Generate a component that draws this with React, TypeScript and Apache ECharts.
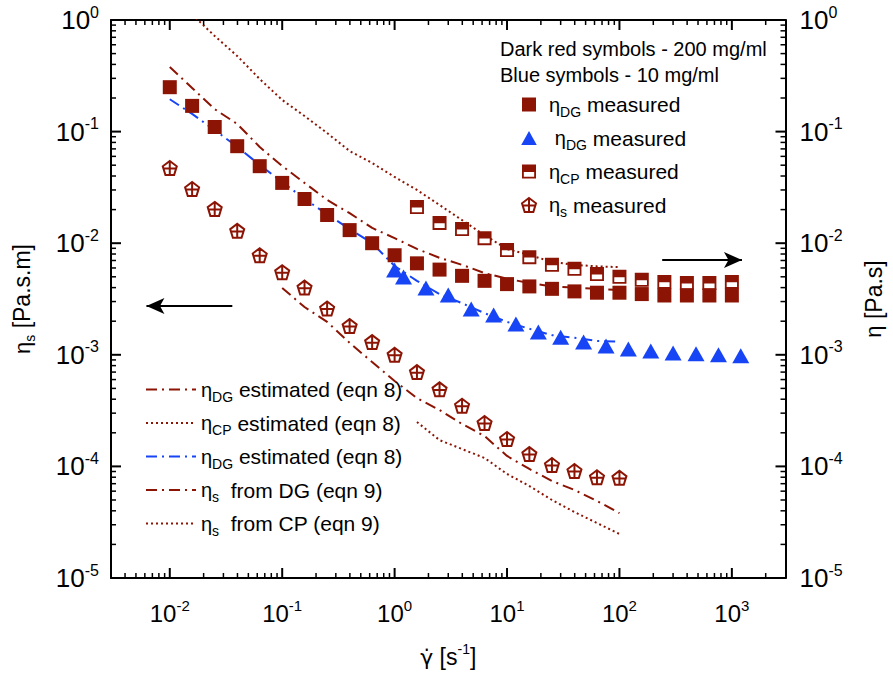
import React, { useEffect, useRef } from 'react';
import * as echarts from 'echarts';

const RED = '#8c1404';
const BLUE = '#1745f5';
const FONT = 'Liberation Sans, Arial, sans-serif';

// shear rates (s^-1) of the 200 mg/ml measurements (5 points per decade)
const shearRates = [0.01, 0.0158, 0.0251, 0.0398, 0.0631, 0.1, 0.158, 0.251, 0.398, 0.631, 1, 1.58, 2.51, 3.98, 6.31, 10, 15.8, 25.1, 39.8, 63.1, 100, 158, 251, 398, 631, 1000];
// eta_DG measured, 200 mg/ml (dark red squares)
const etaDG200 = [0.25, 0.17, 0.11, 0.074, 0.049, 0.0347, 0.0249, 0.0179, 0.0131, 0.0100, 0.0078, 0.0066, 0.0058, 0.0051, 0.0046, 0.0043, 0.0041, 0.0039, 0.0037, 0.0036, 0.0036, 0.0035, 0.0034, 0.0034, 0.0034, 0.0034];
// eta_CP measured (half-filled squares), from 1.58 s^-1
const cpRates = [1.58, 2.51, 3.98, 6.31, 10, 15.8, 25.1, 39.8, 63.1, 100, 158, 251, 398, 631, 1000];
const etaCP = [0.0211, 0.0152, 0.0134, 0.0111, 0.0087, 0.0075, 0.0064, 0.0059, 0.0053, 0.0050, 0.0047, 0.0045, 0.0044, 0.0044, 0.0045];
// eta_DG measured, 10 mg/ml (blue triangles)
const blueRates = [1.0, 1.2, 1.9, 3.0, 4.8, 7.6, 12, 19, 30, 48, 76, 120, 190, 300, 480, 760, 1200];
const etaDG10 = [0.00575, 0.00498, 0.00397, 0.00343, 0.00257, 0.00227, 0.00189, 0.00160, 0.00144, 0.00130, 0.00120, 0.00113, 0.00108, 0.00104, 0.00102, 0.00100, 0.00098];
// eta_s measured (pentagons), 0.01 .. 100 s^-1
const sRates = [0.01, 0.0158, 0.0251, 0.0398, 0.0631, 0.1, 0.158, 0.251, 0.398, 0.631, 1, 1.58, 2.51, 3.98, 6.31, 10, 15.8, 25.1, 39.8, 63.1, 100];
const etaS = [0.0472, 0.0306, 0.0203, 0.0129, 0.0078, 0.0055, 0.0040, 0.0026, 0.00181, 0.0013, 0.00100, 0.00070, 0.00049, 0.00035, 0.000245, 0.000176, 0.000129, 0.000103, 0.000091, 0.000080, 0.000079];

// estimated curves (eqn 8) on 0.01 .. 100 s^-1
const estRates = [0.01, 0.0158, 0.0251, 0.0398, 0.0631, 0.1, 0.158, 0.251, 0.398, 0.631, 1, 1.58, 2.51, 3.98, 6.31, 10, 15.8, 25.1, 39.8, 63.1, 100];
const estDG200 = [0.379, 0.246, 0.159, 0.117, 0.0728, 0.0492, 0.0347, 0.0244, 0.0186, 0.0137, 0.0111, 0.0089, 0.0074, 0.0064, 0.0054, 0.0048, 0.0044, 0.0041, 0.0040, 0.0039, 0.0038];
const estDG10 = [0.195, 0.144, 0.103, 0.0733, 0.0502, 0.0354, 0.0249, 0.0182, 0.0134, 0.0100, 0.00625, 0.0046, 0.0035, 0.0029, 0.00236, 0.00197, 0.00171, 0.00150, 0.00142, 0.00133, 0.00131];
const cpEstRates = [0.0158, 0.0251, 0.0398, 0.0631, 0.1, 0.158, 0.251, 0.398, 0.631, 1, 1.58, 2.51, 3.98, 6.31, 10, 15.8, 25.1, 39.8, 63.1, 100];
const estCP = [1.12, 0.719, 0.476, 0.296, 0.192, 0.138, 0.097, 0.067, 0.0523, 0.0392, 0.030, 0.022, 0.0161, 0.0118, 0.00887, 0.00784, 0.0068, 0.0064, 0.0062, 0.0061];
// eta_s from DG / CP (eqn 9)
const sDGRates = [0.1, 0.158, 0.251, 0.398, 0.631, 1, 1.58, 2.51, 3.98, 6.31, 10, 15.8, 25.1, 39.8, 63.1, 100];
const sFromDG = [0.00397, 0.00268, 0.00197, 0.00128, 0.000861, 0.000582, 0.00041, 0.00032, 0.00024, 0.000187, 0.000124, 0.0000948, 0.000074, 0.0000615, 0.000049, 0.0000382];
const sCPRates = [1.58, 2.51, 3.98, 6.31, 10, 15.8, 25.1, 39.8, 63.1, 100];
const sFromCP = [0.00025, 0.000172, 0.000143, 0.000119, 0.0000855, 0.0000667, 0.00005, 0.000039, 0.0000311, 0.0000248];

// arrows pointing to the axis each group belongs to: [x from, x to, y]
const leftArrow = [0.036, 0.0062, 0.00274];
const rightArrow = [240, 1230, 0.00707];

// axis ranges / tick values
const xRange = [0.003, 3000];
const yRange = [1e-5, 1];
const minorMultipliers = [2, 3, 4, 5, 6, 7, 8, 9];
const xDecades = [-3, -2, -1, 0, 1, 2, 3];
const yDecades = [-5, -4, -3, -2, -1, 0];

const zip = (xs: number[], ys: number[]) => xs.map((x, i) => [x, ys[i]]);

const SQUARE = 'path://M0,0H10V10H0Z';
const TRIANGLE = 'path://M5,0L10,9H0Z';
const HALF_SQ = 'path://M0,0H10V10H0Z M1.3,5.3V8.7H8.7V5.3Z';
const PENTA = 'path://M5,0L10,3.8L8.1,10L1.9,10L0,3.8Z M5,0V10 M0.55,5.4H9.45';

const NAMES = {
  dg200: 'ηDG measured (200 mg/ml)',
  dg10: 'ηDG measured (10 mg/ml)',
  cp: 'ηCP measured',
  s: 'ηs measured',
  eDG200: 'ηDG estimated (eqn 8), 200 mg/ml',
  eCP: 'ηCP estimated (eqn 8)',
  eDG10: 'ηDG estimated (eqn 8), 10 mg/ml',
  sDG: 'ηs from DG (eqn 9)',
  sCP: 'ηs from CP (eqn 9)',
};

const LEGEND_TEXT: Record<string, string> = {
  [NAMES.dg200]: '{e|η}{sub|DG}{t| measured}',
  [NAMES.dg10]: '{t| }{e|η}{sub|DG}{t| measured}',
  [NAMES.cp]: '{e|η}{sub|CP}{t| measured}',
  [NAMES.s]: '{e|η}{sub|s}{t| measured}',
  [NAMES.eDG200]: '{e|η}{sub|DG}{t| estimated (eqn 8)}',
  [NAMES.eCP]: '{e|η}{sub|CP}{t| estimated (eqn 8)}',
  [NAMES.eDG10]: '{e|η}{sub|DG}{t| estimated (eqn 8)}',
  [NAMES.sDG]: '{e|η}{sub|s}{t|  from DG (eqn 9)}',
  [NAMES.sCP]: '{e|η}{sub|s}{t|  from CP (eqn 9)}',
};

const legendRich = {
  e: { fontSize: 20, fontFamily: FONT, color: '#000', lineHeight: 28 },
  t: { fontSize: 21, fontFamily: FONT, color: '#000', lineHeight: 28 },
  sub: { fontSize: 14, fontFamily: FONT, color: '#000', lineHeight: 8, verticalAlign: 'bottom' },
};

const powLabel = (v: number) => {
  const e = Math.log10(v);
  const r = Math.round(e);
  if (Math.abs(e - r) > 1e-6) return '';
  return `{b|10}{s|${r}}`;
};

const DASHDOT = [11, 5, 2, 5];
const DOT = [2, 3];

export default function App() {
  const ref = useRef<HTMLDivElement>(null);
  useEffect(() => {
    if (!ref.current) return;
    const chart = echarts.init(ref.current, undefined, { renderer: 'svg' });

    const xMinor: number[] = [];
    const xMajor: number[] = [];
    xDecades.forEach((d) => {
      const p = Math.pow(10, d);
      if (p > xRange[0] && p < xRange[1]) xMajor.push(p);
      minorMultipliers.forEach((m) => {
        const v = m * p;
        if (v > xRange[0] * 1.0001 && v < xRange[1] * 0.9999) xMinor.push(v);
      });
    });
    const yMinor: number[] = [];
    const yMajor: number[] = [];
    yDecades.forEach((d) => {
      const p = Math.pow(10, d);
      if (p > yRange[0] && p < yRange[1]) yMajor.push(p);
      minorMultipliers.forEach((m) => {
        const v = m * p;
        if (v > yRange[0] * 1.0001 && v < yRange[1] * 0.9999) yMinor.push(v);
      });
    });

    const tickLabel = (size: number, supSize: number) => ({
      b: { fontSize: size, fontFamily: FONT, color: '#000', lineHeight: size + 6 },
      s: { fontSize: supSize, fontFamily: FONT, color: '#000', lineHeight: supSize, verticalAlign: 'top' },
    });

    const axisLine = { show: true, onZero: false, lineStyle: { color: '#000', width: 2 } };
    const axisTick = { show: false };

    const lineSeries = (name: string, data: number[][], color: string, type: any) => ({
      name, type: 'line', data, symbol: 'none', showSymbol: false, clip: true,
      lineStyle: { color, width: 2, type }, itemStyle: { color },
      emphasis: { disabled: true }, z: 2,
    });

    const option: any = {
      animation: false,
      backgroundColor: '#fff',
      grid: { left: 111, right: 96, top: 20, bottom: 98, containLabel: false },
      xAxis: [
        {
          type: 'log', logBase: 10, min: xRange[0], max: xRange[1], position: 'bottom',
          axisLine, axisTick, splitLine: { show: false },
          axisLabel: { formatter: powLabel, margin: 20, rich: tickLabel(24, 15) },
          name: '{g|γ̇}{t| [s}{sup|-1}{t|]}', nameLocation: 'middle', nameGap: 64,
          nameTextStyle: {
            rich: {
              g: { fontSize: 22, fontFamily: 'DejaVu Sans', color: '#000', lineHeight: 30 },
              t: { fontSize: 23, fontFamily: FONT, color: '#000', lineHeight: 30 },
              sup: { fontSize: 14, fontFamily: FONT, color: '#000', lineHeight: 14, verticalAlign: 'top' },
            },
          },
        },
        {
          type: 'log', logBase: 10, min: xRange[0], max: xRange[1], position: 'top',
          axisLine, axisTick, splitLine: { show: false }, axisLabel: { show: false },
        },
      ],
      yAxis: [
        {
          type: 'log', logBase: 10, min: yRange[0], max: yRange[1], position: 'left',
          axisLine, axisTick, splitLine: { show: false },
          axisLabel: { formatter: powLabel, margin: 12, rich: tickLabel(26, 16) },
          name: '{e|η}{sub|s}{t| [Pa.s.m]}', nameLocation: 'middle', nameRotate: 90, nameGap: 74,
          nameTextStyle: {
            rich: {
              e: { fontSize: 22, fontFamily: FONT, color: '#000', lineHeight: 30 },
              t: { fontSize: 23, fontFamily: FONT, color: '#000', lineHeight: 30 },
              sub: { fontSize: 14, fontFamily: FONT, color: '#000', lineHeight: 10, verticalAlign: 'bottom' },
            },
          },
        },
        {
          type: 'log', logBase: 10, min: yRange[0], max: yRange[1], position: 'right',
          axisLine, axisTick, splitLine: { show: false },
          axisLabel: { formatter: powLabel, margin: 14, rich: tickLabel(26, 16) },
          name: '{e|η}{t| [Pa.s]}', nameLocation: 'middle', nameRotate: 90, nameGap: 74,
          nameTextStyle: {
            rich: {
              e: { fontSize: 22, fontFamily: FONT, color: '#000', lineHeight: 28 },
              t: { fontSize: 23, fontFamily: FONT, color: '#000', lineHeight: 28 },
            },
          },
        },
      ],
      legend: [
        {
          left: 516, top: 89, orient: 'vertical', itemWidth: 30, itemHeight: 14, itemGap: 9,
          selectedMode: false,
          data: [
            { name: NAMES.dg200, icon: SQUARE, itemStyle: { color: RED, borderWidth: 0, opacity: 1 } },
            { name: NAMES.dg10, icon: TRIANGLE, itemStyle: { color: BLUE, borderWidth: 0, opacity: 1 } },
            { name: NAMES.cp, icon: HALF_SQ, itemStyle: { color: RED, borderWidth: 0, opacity: 1 } },
            { name: NAMES.s, icon: PENTA, itemStyle: { color: 'rgba(255,255,255,0)', borderColor: RED, borderWidth: 2, opacity: 1 } },
          ],
          formatter: (n: string) => LEGEND_TEXT[n] ?? n,
          textStyle: { rich: legendRich },
        },
        {
          left: 140, top: 374, orient: 'vertical', itemWidth: 50, itemHeight: 14, itemGap: 9,
          selectedMode: false,
          itemStyle: { opacity: 0 },
          data: [NAMES.eDG200, NAMES.eCP, NAMES.eDG10, NAMES.sDG, NAMES.sCP],
          formatter: (n: string) => LEGEND_TEXT[n] ?? n,
          textStyle: { rich: legendRich },
        },
      ],
      graphic: [
        { type: 'text', left: 500, top: 39, style: { text: 'Dark red symbols - 200 mg/ml', fontSize: 20, fontFamily: FONT, fill: '#000' } },
        { type: 'text', left: 500, top: 65, style: { text: 'Blue symbols - 10 mg/ml', fontSize: 20, fontFamily: FONT, fill: '#000' } },
      ],
      series: [
        lineSeries(NAMES.eDG200, zip(estRates, estDG200), RED, DASHDOT),
        lineSeries(NAMES.eCP, zip(cpEstRates, estCP), RED, DOT),
        lineSeries(NAMES.eDG10, zip(estRates, estDG10), BLUE, DASHDOT),
        lineSeries(NAMES.sDG, zip(sDGRates, sFromDG), RED, DASHDOT),
        lineSeries(NAMES.sCP, zip(sCPRates, sFromCP), RED, DOT),
        {
          name: NAMES.dg200, type: 'scatter', data: zip(shearRates, etaDG200),
          symbol: 'rect', symbolSize: 14, itemStyle: { color: RED, opacity: 1 }, emphasis: { disabled: true }, z: 3,
          markLine: {
            silent: true, symbol: ['none', 'arrow'], symbolSize: [12, 18], animation: false,
            label: { show: false }, emphasis: { disabled: true },
            lineStyle: { color: '#000', width: 2, type: 'solid', opacity: 1 },
            data: [
              [{ coord: [leftArrow[0], leftArrow[2]] }, { coord: [leftArrow[1], leftArrow[2]] }],
              [{ coord: [rightArrow[0], rightArrow[2]] }, { coord: [rightArrow[1], rightArrow[2]] }],
            ],
          },
        },
        {
          name: NAMES.dg10, type: 'scatter', data: zip(blueRates, etaDG10),
          symbol: 'triangle', symbolSize: [17, 15], itemStyle: { color: BLUE, opacity: 1 }, emphasis: { disabled: true }, z: 3,
        },
        {
          name: NAMES.cp, type: 'scatter', yAxisIndex: 1, data: zip(cpRates, etaCP),
          symbol: HALF_SQ, symbolSize: 14, symbolKeepAspect: true, itemStyle: { color: RED, opacity: 1 }, emphasis: { disabled: true }, z: 3,
        },
        {
          name: NAMES.s, type: 'scatter', data: zip(sRates, etaS),
          symbol: PENTA, symbolSize: 14, symbolKeepAspect: true,
          itemStyle: { color: 'rgba(255,255,255,0)', borderColor: RED, borderWidth: 2, opacity: 1 }, emphasis: { disabled: true }, z: 3,
        },
        {
          name: 'axis ticks', type: 'custom', coordinateSystem: 'cartesian2d', data: [[1, 0.001]],
          encode: { x: 0, y: 1 }, silent: true, z: 10, clip: false,
          renderItem: (params: any, api: any) => {
            const x0 = api.coord([xRange[0], yRange[0]]);
            const x1 = api.coord([xRange[1], yRange[1]]);
            const left = x0[0], bottom = x0[1], right = x1[0], top = x1[1];
            const children: any[] = [];
            const add = (a: number, b: number, c: number, d: number, w: number) =>
              children.push({ type: 'line', shape: { x1: a, y1: b, x2: c, y2: d }, style: { stroke: '#000', lineWidth: w } });
            xMajor.forEach((v) => {
              const px = api.coord([v, 0.001])[0];
              add(px, bottom, px, bottom - 10, 2);
              add(px, top, px, top + 10, 2);
            });
            xMinor.forEach((v) => {
              const px = api.coord([v, 0.001])[0];
              add(px, bottom, px, bottom - 5, 1.5);
              add(px, top, px, top + 5, 1.5);
            });
            yMajor.forEach((v) => {
              const py = api.coord([1, v])[1];
              add(left, py, left + 10, py, 2);
              add(right, py, right - 10, py, 2);
            });
            yMinor.forEach((v) => {
              const py = api.coord([1, v])[1];
              add(left, py, left + 5, py, 1.5);
              add(right, py, right - 5, py, 1.5);
            });
            return { type: 'group', children };
          },
        },
      ],
    };
    chart.setOption(option);
    return () => chart.dispose();
  }, []);
  return <div ref={ref} style={{ position: 'absolute', left: 0, top: 0, width: 893, height: 676, background: '#fff' }} />;
}
